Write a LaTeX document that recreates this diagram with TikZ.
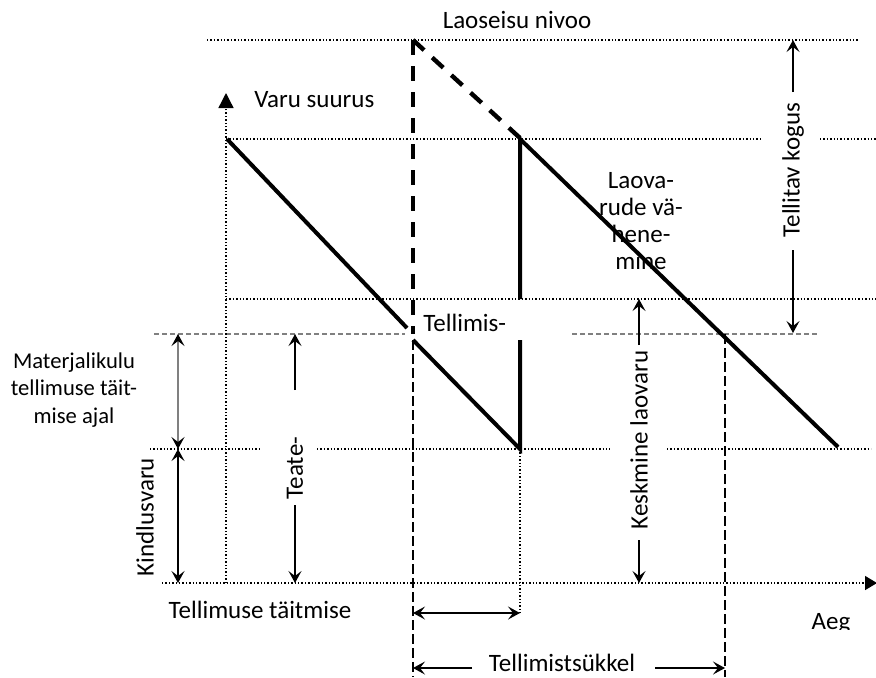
\documentclass[tikz,border=0pt]{standalone}
\usepackage{fontspec}
\setmainfont{Carlito}
\usetikzlibrary{arrows.meta}

\tikzset{
  >={Stealth[length=6pt,width=6.5pt,inset=2.5pt]},
  dotline/.style={line width=0.7pt, dash pattern=on 0.7pt off 1pt},
  greydash/.style={gray, line width=0.6pt, dash pattern=on 2.5pt off 1.5pt},
  thindash/.style={line width=0.6pt, dash pattern=on 5pt off 2pt},
  stock/.style={line width=2pt},
  stockdash/.style={line width=2.2pt, dash pattern=on 7.5pt off 5.5pt},
  dimline/.style={line width=0.6pt},
  lbl/.style={font=\fontsize{12.5}{13.5}\selectfont, inner sep=0pt},
}

\begin{document}
\begin{tikzpicture}[x=0.5pt,y=-0.5pt]
\useasboundingbox (0,0) rectangle (876,677);

% levels
\draw[dotline] (207,40) -- (858,40);
\draw[dotline] (226,139) -- (762,139);
\draw[dotline] (820,139) -- (876,139);
\draw[dotline] (226,299) -- (876,299);
\draw[greydash] (154,334) -- (405,334);
\draw[greydash] (572,334) -- (820,334);
\draw[dotline] (150,449) -- (259,449);
\draw[dotline] (317,449) -- (610,449);
\draw[dotline] (667,449) -- (871,449);

% axes
\draw[dotline, -{Triangle[length=7.5pt,width=7.5pt]}] (226,583) -- (226,93);
\draw[dotline, -{Triangle[length=6pt,width=7pt]}] (162,583) -- (877,583);

% time marks
\draw[thindash] (413,340) -- (413,677);
\draw[thindash] (725,334) -- (725,677);
\draw[dotline] (520,449) -- (520,613);

% labels
\node[lbl] (level) at (517,20) {Laoseisu nivoo};
\node[lbl, anchor=west] (yname) at (254,100) {Varu suurus};
\node[lbl, anchor=west] (order) at (423,323) {Tellimis-};
\node[lbl, align=center] (decr) at (641,221) {Laova-\\rude vä-\\hene-\\mine};
\node[lbl, rotate=90] (qty) at (793,170) {Tellitav kogus};
\node[lbl, rotate=90] (avg) at (639,440) {Keskmine laovaru};
\node[lbl, align=center, font=\fontsize{11.3}{13.8}\selectfont] (use) at (74,390)
  {Materjalikulu\\tellimuse täit-\\mise ajal};
\node[lbl, rotate=90] (safety) at (145,517) {Kindlusvaru};
\node[lbl, rotate=90] (notice) at (295,468) {Teate-};
\node[lbl] (lead) at (260,610) {Tellimuse täitmise};
\node[lbl, anchor=base] (cycle) at (562,671) {Tellimistsükkel};
\begin{scope}
  \clip (790,600) rectangle (876,629);
  \node[lbl, anchor=base] (time) at (831,629) {Aeg};
\end{scope}

% stock curve
\draw[stock] (227,139) -- (407,328);
\draw[stock] (413,340) -- (520,449) -- (520,340);
\draw[stock] (520,299) -- (520,139) -- (838,447);
\draw[stockdash] (413,40) -- (413,334);
\draw[stockdash] (413,40) -- (520,138);

% dimensions
\draw[dimline, gray, {Stealth[length=6pt,width=6.5pt,inset=2.5pt,color=black]}-{Stealth[length=6pt,width=6.5pt,inset=2.5pt,color=black]}] (178,334) -- (178,449);
\draw[line width=0.9pt, <->] (178,449) -- (178,583);
\draw[dimline, ->] (295,390) -- (295,334);
\draw[dimline, ->] (295,505) -- (295,583);
\draw[dimline, ->] (639,345) -- (639,299);
\draw[dimline, ->] (639,540) -- (639,583);
\draw[dimline, ->] (793,92) -- (793,40);
\draw[dimline, ->] (793,250) -- (793,333);
\draw[dimline, <->] (413,613) -- (520,613);
\draw[dimline, ->] (472,668) -- (413,668);
\draw[dimline, ->] (655,668) -- (725,668);
\end{tikzpicture}
\end{document}
